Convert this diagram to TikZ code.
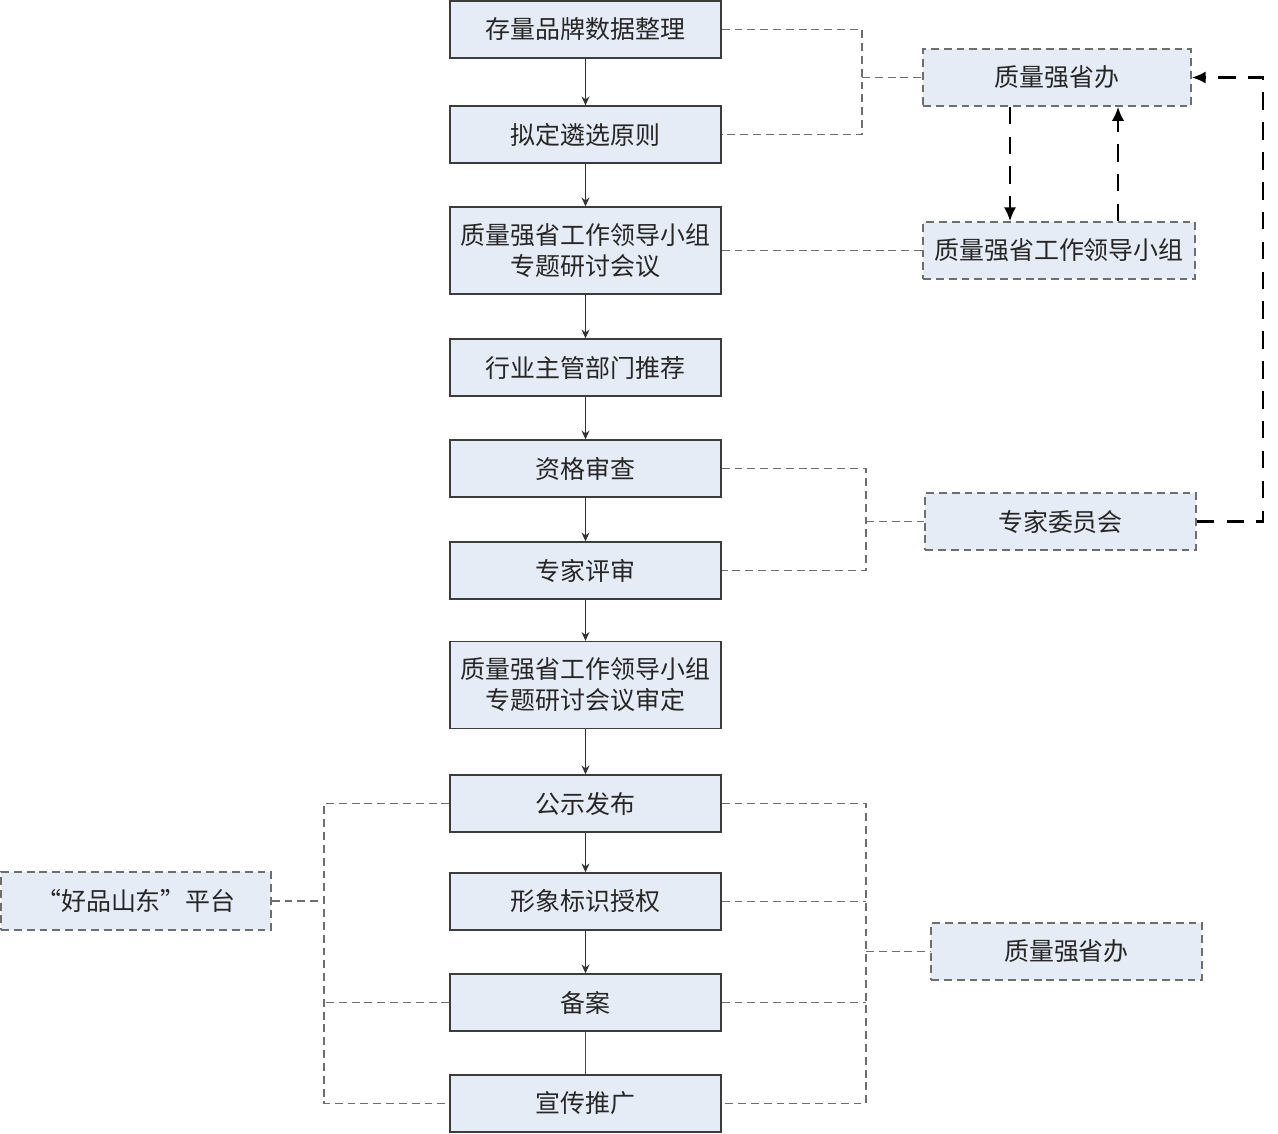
\documentclass[tikz,border=0pt]{standalone}
\usepackage{fontspec}
\setmainfont{Noto Sans CJK SC}
\usetikzlibrary{arrows.meta}
\definecolor{boxfill}{HTML}{E6ECF6}
\definecolor{boxline}{HTML}{3C3C3C}
\definecolor{dashline}{HTML}{6E6E6E}
\tikzset{
  mainbox/.style={draw=boxline, line width=0.8pt, fill=boxfill, minimum width=5.42cm, minimum height=1.14cm, inner sep=0pt, align=center, font=\fontsize{14.2}{17.6}\selectfont, text=black!85},
  tallbox/.style={mainbox, minimum height=1.74cm},
  sidebox/.style={draw=dashline, line width=0.8pt, dash pattern=on 4.5pt off 2.8pt, fill=boxfill, minimum height=1.14cm, inner sep=0pt, align=center, font=\fontsize{14.2}{17.6}\selectfont, text=black!85},
  flow/.style={draw=black!80, line width=0.6pt, -{Stealth[length=5pt,width=4.5pt]}},
  plainflow/.style={draw=black!70, line width=0.6pt},
  link/.style={draw=dashline, line width=0.8pt, dash pattern=on 4.5pt off 2.8pt},
  bigdash/.style={draw=black, line width=1.5pt, dash pattern=on 10pt off 7pt, -{Latex[length=8pt,width=7pt]}},
}
\begin{document}
\begin{tikzpicture}[x=0.02cm, y=-0.02cm]
\useasboundingbox (0,0) rectangle (1278,1133);
% main column
\node[mainbox] (b1) at (585.5,29.5) {存量品牌数据整理};
\node[mainbox] (b2) at (585.5,134.5) {拟定遴选原则};
\node[tallbox] (b3) at (585.5,250.5) {质量强省工作领导小组\\专题研讨会议};
\node[mainbox] (b4) at (585.5,367.5) {行业主管部门推荐};
\node[mainbox] (b5) at (585.5,468.5) {资格审查};
\node[mainbox] (b6) at (585.5,570.5) {专家评审};
\node[tallbox] (b7) at (585.5,685) {质量强省工作领导小组\\专题研讨会议审定};
\node[mainbox] (b8) at (585.5,803.5) {公示发布};
\node[mainbox] (b9) at (585.5,901.5) {形象标识授权};
\node[mainbox] (b10) at (585.5,1002.5) {备案};
\node[mainbox] (b11) at (585.5,1103.5) {宣传推广};
% side boxes
\node[sidebox, minimum width=5.36cm] (r1) at (1057,77.5) {质量强省办};
\node[sidebox, minimum width=5.44cm] (r2) at (1059,250.5) {质量强省工作领导小组};
\node[sidebox, minimum width=5.42cm] (r3) at (1060.5,521.5) {专家委员会};
\node[sidebox, minimum width=5.42cm] (r4) at (1066.5,951.5) {质量强省办};
\node[sidebox, minimum width=5.40cm, minimum height=1.16cm] (l1) at (136,901) {“好品山东”平台};
% main flow
\draw[flow] (b1) -- (b2);
\draw[flow] (b2) -- (b3);
\draw[flow] (b3) -- (b4);
\draw[flow] (b4) -- (b5);
\draw[flow] (b5) -- (b6);
\draw[flow] (b6) -- (b7);
\draw[flow] (b7) -- (b8);
\draw[flow] (b8) -- (b9);
\draw[flow] (b9) -- (b10);
\draw[plainflow] (b10) -- (b11);
% junction coordinates
\coordinate (j1) at (862,77.5);
\coordinate (j2) at (866,521.5);
\coordinate (j3) at (866,951.5);
\coordinate (j4) at (324,901);
\coordinate (ca) at (1010,0);
\coordinate (cb) at (1118,0);
\coordinate (cc) at (1263,0);
% dashed grey links
\draw[link] (b1.east) -- (b1.east -| j1) -- (b2.east -| j1) -- (b2.east);
\draw[link] (j1) -- (r1.west);
\draw[link] (b3.east) -- (r2.west);
\draw[link] (b5.east) -- (b5.east -| j2) -- (b6.east -| j2) -- (b6.east);
\draw[link] (j2) -- (r3.west);
\draw[link] (b8.east) -- (b8.east -| j3) -- (b11.east -| j3) -- (b11.east);
\draw[link] (b9.east) -- (b9.east -| j3);
\draw[link] (b10.east) -- (b10.east -| j3);
\draw[link] (j3) -- (r4.west);
\draw[link] (b8.west) -- (b8.west -| j4) -- (b11.west -| j4) -- (b11.west);
\draw[link] (b10.west) -- (b10.west -| j4);
\draw[link] (l1.east) -- (j4);
% black dashed arrows
\draw[bigdash] (r1.south -| ca) -- (r2.north -| ca);
\draw[bigdash] (r2.north -| cb) -- (r1.south -| cb);
\draw[bigdash] (r3.east) -- (r3.east -| cc) -- (r1.east -| cc) -- (r1.east);
\end{tikzpicture}
\end{document}
